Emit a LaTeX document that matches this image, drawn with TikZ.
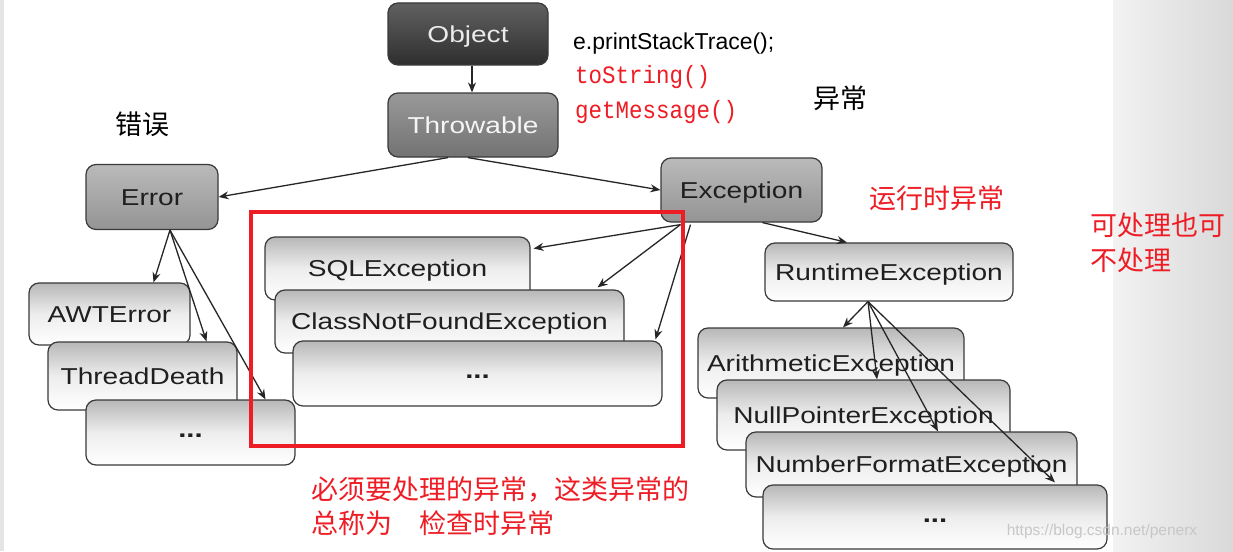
\documentclass[tikz,border=0pt]{standalone}
\usepackage{fontspec}
\setmainfont{Liberation Sans}
\newfontfamily\boxfont{Liberation Sans}[FakeStretch=1.22]
\newfontfamily\codefont{Liberation Mono}[FakeStretch=0.9]
\newfontfamily\cjk{Noto Sans CJK SC}
\usetikzlibrary{arrows.meta,calc}
\definecolor{myred}{HTML}{EE1C24}
\definecolor{edge}{HTML}{3A3A3A}
\begin{document}
\begin{tikzpicture}[x=1pt,y=-1pt,
  box/.style={draw=edge, line width=1.2pt, rounded corners=10pt, inner sep=0pt,
    text height=20pt, text depth=4pt,
    font=\boxfont\fontsize{23}{27}\selectfont, text=black!88},
  lightbox/.style={box, top color=black!28, bottom color=white, middle color=black!7},
  midbox/.style={box, top color=black!27, bottom color=black!42},
  dots/.style={text height=14pt, text depth=4pt, font=\boxfont\bfseries\fontsize{24}{27}\selectfont},
  arr/.style={draw=black!85, line width=1.3pt, -{Stealth[length=10pt,width=8pt]}},
  cn/.style={font=\cjk\fontsize{27}{32}\selectfont, inner sep=0pt},
]
\useasboundingbox (0,0) rectangle (1233,551);
\fill[white] (0,0) rectangle (1233,551);
\fill[black!10] (0,0) rectangle (4,551);
\shade[left color=black!5, right color=black!15] (1113,0) rectangle (1233,551);

% top
\node[box, top color=black!62, bottom color=black!82, text=black!8, minimum width=160pt, minimum height=62pt] (obj) at (468,34) {Object};
\node[box, top color=black!40, bottom color=black!55, text=black!4, minimum width=170pt, minimum height=64pt] (thr) at (473,125) {Throwable};
\node[midbox, minimum width=132pt, minimum height=65pt] (err) at (152,197) {Error};
\node[midbox, minimum width=161pt, minimum height=64pt] (exc) at (741.5,190) {Exception};

% error children
\node[lightbox, minimum width=161pt, minimum height=62pt] (awt) at (109.5,314) {AWTError};
\node[lightbox, minimum width=189pt, minimum height=68pt] (td) at (142.5,376) {ThreadDeath};
\node[lightbox, dots, minimum width=209pt, minimum height=65pt] (dotsA) at (190.5,432.5) {...};

% checked
\node[lightbox, minimum width=265pt, minimum height=63pt] (sql) at (397.5,268.5) {SQLException};
\node[lightbox, minimum width=349pt, minimum height=63pt] (cnf) at (449.5,321.5) {ClassNotFoundException};
\node[lightbox, dots, minimum width=369pt, minimum height=65pt] (dotsB) at (477.5,373.5) {...};

% runtime
\node[lightbox, minimum width=248pt, minimum height=58pt] (rte) at (889,272) {RuntimeException};
\node[lightbox, minimum width=266pt, minimum height=70pt] (ari) at (831,363) {ArithmeticException};
\node[lightbox, minimum width=293pt, minimum height=70pt] (npe) at (863.5,415) {NullPointerException};
\node[lightbox, minimum width=331pt, minimum height=65pt] (nfe) at (911.5,464.5) {NumberFormatException};
\node[lightbox, dots, minimum width=344pt, minimum height=64pt] (dotsC) at (935,517) {...};

% connectors
\draw[arr] ([xshift=4pt]obj.south) -- ([xshift=-1pt]thr.north);
\draw[arr] ([xshift=-25pt]thr.south) -- (err.east);
\draw[arr] ([xshift=-5pt]thr.south) -- (exc.west);
\draw[arr] ([xshift=18pt]err.south) -- ([xshift=44pt]awt.north);
\draw[arr] ([xshift=18pt]err.south) -- ([xshift=64pt]td.north);
\draw[arr] ([xshift=18pt]err.south) -- ([xshift=75pt]dotsA.north);
\draw[arr] ([xshift=-61pt,yshift=-2pt]exc.south) -- ([xshift=3pt,yshift=20pt]sql.east);
\draw[arr] ([xshift=-61pt,yshift=-2pt]exc.south) -- ([xshift=148pt,yshift=2pt]cnf.north);
\draw[arr] ([xshift=-51pt,yshift=-2pt]exc.south) -- ([xshift=178pt,yshift=1pt]dotsB.north);
\draw[arr] ([xshift=21pt]exc.south) -- ([xshift=-42pt]rte.north);
\draw[arr] ([xshift=-21pt]rte.south) -- ([xshift=12pt]ari.north);
\draw[arr] ([xshift=-21pt]rte.south) -- ([xshift=13.5pt]npe.north);
\draw[arr] ([xshift=-21pt]rte.south) -- ([xshift=26.5pt]nfe.north);
\draw[arr] ([xshift=-21pt]rte.south) -- ([xshift=120pt,yshift=2pt]dotsC.north);

% red frame
\node[draw=myred, line width=4pt, minimum width=432pt, minimum height=234pt, inner sep=0pt] (frame) at (467,329) {};

% annotations
\node[anchor=base west, inner sep=0pt, font=\fontsize{23}{27}\selectfont] (pst) at (573,50) {e.printStackTrace();};
\node[anchor=base west, inner sep=0pt, text=myred, font=\codefont\fontsize{25}{30}\selectfont] (tos) at (575,83) {toString()};
\node[anchor=base west, inner sep=0pt, text=myred, font=\codefont\fontsize{25}{30}\selectfont] (gm) at (575,118) {getMessage()};
\node[cn] (yc) at (840,98) {异常};
\node[cn] (cw) at (142,124) {错误};
\node[cn, text=myred] (yx) at (937,198) {运行时异常};
\node[cn, text=myred, anchor=west] (kc1) at (1090,225) {可处理也可};
\node[cn, text=myred, anchor=west] (kc2) at (1090,260) {不处理};
\node[cn, text=myred, anchor=west] (b1) at (311,490) {必须要处理的异常，这类异常的};
\node[cn, text=myred, anchor=west] (b2) at (311,523) {总称为　检查时异常};
\node[inner sep=0pt, text=black!22, font=\fontsize{15.5}{18}\selectfont] (wm) at (1102,531) {https://blog.csdn.net/penerx};
\end{tikzpicture}
\end{document}
